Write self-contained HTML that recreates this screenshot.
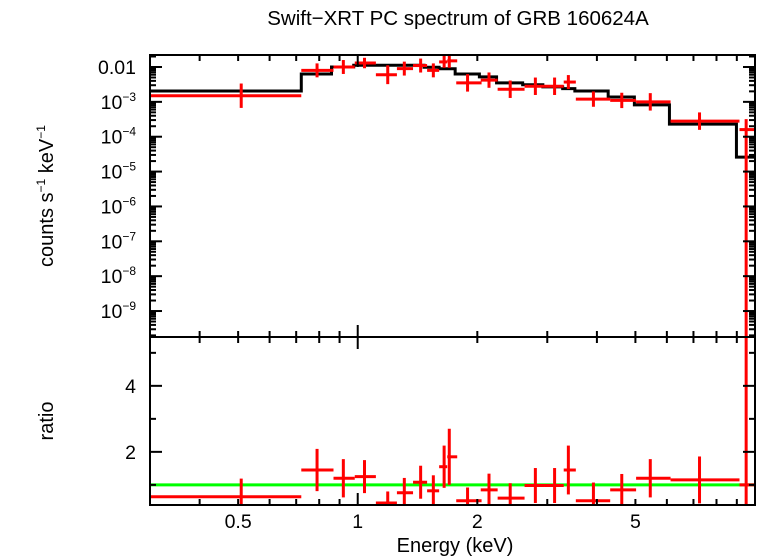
<!DOCTYPE html>
<html><head><meta charset="utf-8"><style>
html,body{margin:0;padding:0;background:#fff;}
svg{display:block;font-family:"Liberation Sans",sans-serif;}
</style></head><body>
<svg id="chart" width="758" height="556" viewBox="0 0 758 556" xmlns="http://www.w3.org/2000/svg">
<text x="458" y="25" font-size="20.5" text-anchor="middle">Swift−XRT PC spectrum of GRB 160624A</text>
<text transform="translate(53,196) rotate(-90)" font-size="20" text-anchor="middle">counts s<tspan font-size="12" dy="-8">−1</tspan><tspan dy="8"> keV</tspan><tspan font-size="12" dy="-8">−1</tspan></text>
<text transform="translate(53,421) rotate(-90)" font-size="20" text-anchor="middle">ratio</text>
<text x="455" y="552" font-size="20" text-anchor="middle">Energy (keV)</text>
<g id="g"></g>
</svg>
<script>
// ---- data ----
const binLo  = [0.3,0.721,0.869,0.983,1.111,1.255,1.378,1.495,1.603,1.68,1.77,2.04,2.25,2.63,2.96,3.3,3.54,4.32,5.02,6.13,9.14];
const binHi  = [0.721,0.869,0.983,1.111,1.255,1.378,1.495,1.603,1.68,1.78,2.05,2.25,2.63,2.96,3.3,3.54,4.32,5.02,6.13,9.14,10];
const binMid = [0.509,0.79,0.92,1.04,1.19,1.31,1.44,1.55,1.65,1.70,1.89,2.14,2.42,2.80,3.13,3.39,3.92,4.62,5.45,7.25,9.5];
const spec   = [1.5e-3,8e-3,0.010,0.013,6e-3,9e-3,0.011,8e-3,0.014,0.015,3.5e-3,4.2e-3,2.3e-3,2.8e-3,2.8e-3,3.7e-3,1.2e-3,1.1e-3,1e-3,2.8e-4,1.6e-4];
const specErrDex=[0.35,0.2,0.2,0.15,0.27,0.2,0.2,0.2,0.17,0.2,0.25,0.22,0.25,0.25,0.25,0.2,0.22,0.22,0.25,0.25,0.3];
const specLoOpen=[false,false,false,false,false,false,false,false,false,false,false,false,false,false,false,false,false,false,false,false,true];
const ratio  = [0.64,1.45,1.2,1.25,0.45,0.76,1.08,0.82,1.55,1.85,0.52,0.85,0.6,0.98,0.98,1.45,0.52,0.85,1.2,1.15,1.0];
const ratioErr=[0.55,0.64,0.58,0.5,0.35,0.45,0.5,0.47,0.64,0.85,0.4,0.49,0.45,0.53,0.53,0.74,0.55,0.48,0.58,0.71,10];
const modelEdges=[0.3,0.721,0.859,0.977,1.469,1.603,1.759,2.024,2.236,2.601,2.924,3.28,3.52,4.27,4.97,6.09,8.98,10];
const modelVals=[2.05e-3,6.3e-3,0.01,0.0112,9.8e-3,8.9e-3,6.3e-3,5.2e-3,3.5e-3,3.1e-3,2.7e-3,2.4e-3,2.05e-3,1.38e-3,8.2e-4,2.3e-4,2.6e-5];
const xTickLabels=["0.5","1","2","5"];
const xTickVals=[0.5,1,2,5];
const yDecades=[-2,-3,-4,-5,-6,-7,-8,-9];
const rTicks=[2,4];
// ---- axes ----
const L=150,R=755,T=55,M=337,B=505;
const X=e=>L+(Math.log10(e)-Math.log10(0.3))/(1-Math.log10(0.3))*(R-L);
const YT=v=>{const lv=Math.log10(v);return T+(-1.656-lv)/(-1.656+9.745)*(M-T);};
const YR=v=>M+(5.48-v)/(5.48-0.39)*(B-M);
const g=document.getElementById('g');
const NS="http://www.w3.org/2000/svg";
function mk(tag,attrs,parent){const e=document.createElementNS(NS,tag);for(const k in attrs)e.setAttribute(k,attrs[k]);(parent||g).appendChild(e);return e;}
function line(x1,y1,x2,y2,c,w){return mk('line',{x1,y1,x2,y2,stroke:c,'stroke-width':w});}
const clip=(v,a,b)=>Math.max(a,Math.min(b,v));
// model steps top
let d="";
for(let i=0;i<modelVals.length;i++){const x1=X(modelEdges[i]),x2=X(modelEdges[i+1]),y=YT(modelVals[i]);d+=(i?"L":"M")+x1+","+y+"L"+x2+","+y;}
const mp=mk('path',{d,fill:'none',stroke:'#000','stroke-width':3});


// green unity line
const gl=line(L,YR(1),R,YR(1),'#00ff00',3);


// data points
for(let i=0;i<spec.length;i++){
  const x1=X(binLo[i]),x2=X(binHi[i]),xm=X(binMid[i]);
  const grp=mk('g',{});
  
  
  const y=YT(spec[i]);
  const f=Math.pow(10,specErrDex[i]);
  const hiY=clip(YT(spec[i]*f),T,M);
  const loY=specLoOpen[i]?M:clip(YT(spec[i]/f),T,M);
  mk('line',{x1:x1,y1:y,x2:x2,y2:y,stroke:'#f00','stroke-width':3},grp);
  mk('line',{x1:xm,y1:hiY,x2:xm,y2:loY,stroke:'#f00','stroke-width':3},grp);
  const yr=YR(ratio[i]);
  mk('line',{x1:x1,y1:yr,x2:x2,y2:yr,stroke:'#f00','stroke-width':3},grp);
  mk('line',{x1:xm,y1:clip(YR(ratio[i]+ratioErr[i]),M,B),x2:xm,y2:clip(YR(ratio[i]-ratioErr[i]),M,B),stroke:'#f00','stroke-width':3},grp);
}
// frames
for(const [t,b,n] of [[T,M,'top-panel-frame'],[M,B,'bottom-panel-frame']]){
  const r=mk('rect',{x:L,y:t,width:R-L,height:b-t,fill:'none',stroke:'#000','stroke-width':2});
  
  
}
// x ticks
const xt=[0.3,0.4,0.5,0.6,0.7,0.8,0.9,1,2,3,4,5,6,7,8,9,10];
for(const e of xt){const x=X(e);const big=(e===1||e===10);const len=big?12:6;
  for(const [y0,dir] of [[T,1],[M,-1],[M,1],[B,-1]]) line(x,y0,x,y0+dir*len,'#000',2);}
for(let i=0;i<xTickVals.length;i++){const t=mk('text',{x:X(xTickVals[i]),y:528,'font-size':19.5,'text-anchor':'middle'});t.textContent=xTickLabels[i];
  
  }
// y ticks top
for(let dd=-10;dd<=-2;dd++){for(let m=1;m<10;m++){const v=m*Math.pow(10,dd);const y=YT(v);if(y<T||y>M)continue;const len=m===1?12:6;line(L,y,L+len,y,'#000',2);line(R,y,R-len,y,'#000',2);}}
for(const dd of yDecades){const y=YT(Math.pow(10,dd));const t=mk('text',{x:136,y:y+7,'font-size':19.5,'text-anchor':'end'});
  
  
  if(dd===-2){t.textContent="0.01";}else{t.innerHTML='10<tspan font-size="12" dy="-8">−'+(-dd)+'</tspan>';}}
// ratio ticks
for(let v=1;v<=5;v++){const y=YR(v);const big=(v%2===0);const len=big?12:6;line(L,y,L+len,y,'#000',2);line(R,y,R-len,y,'#000',2);}
for(const v of rTicks){const t=mk('text',{x:136,y:YR(v)+7,'font-size':19.5,'text-anchor':'end'});t.textContent=String(v);
  
  }
</script>
</body></html>
